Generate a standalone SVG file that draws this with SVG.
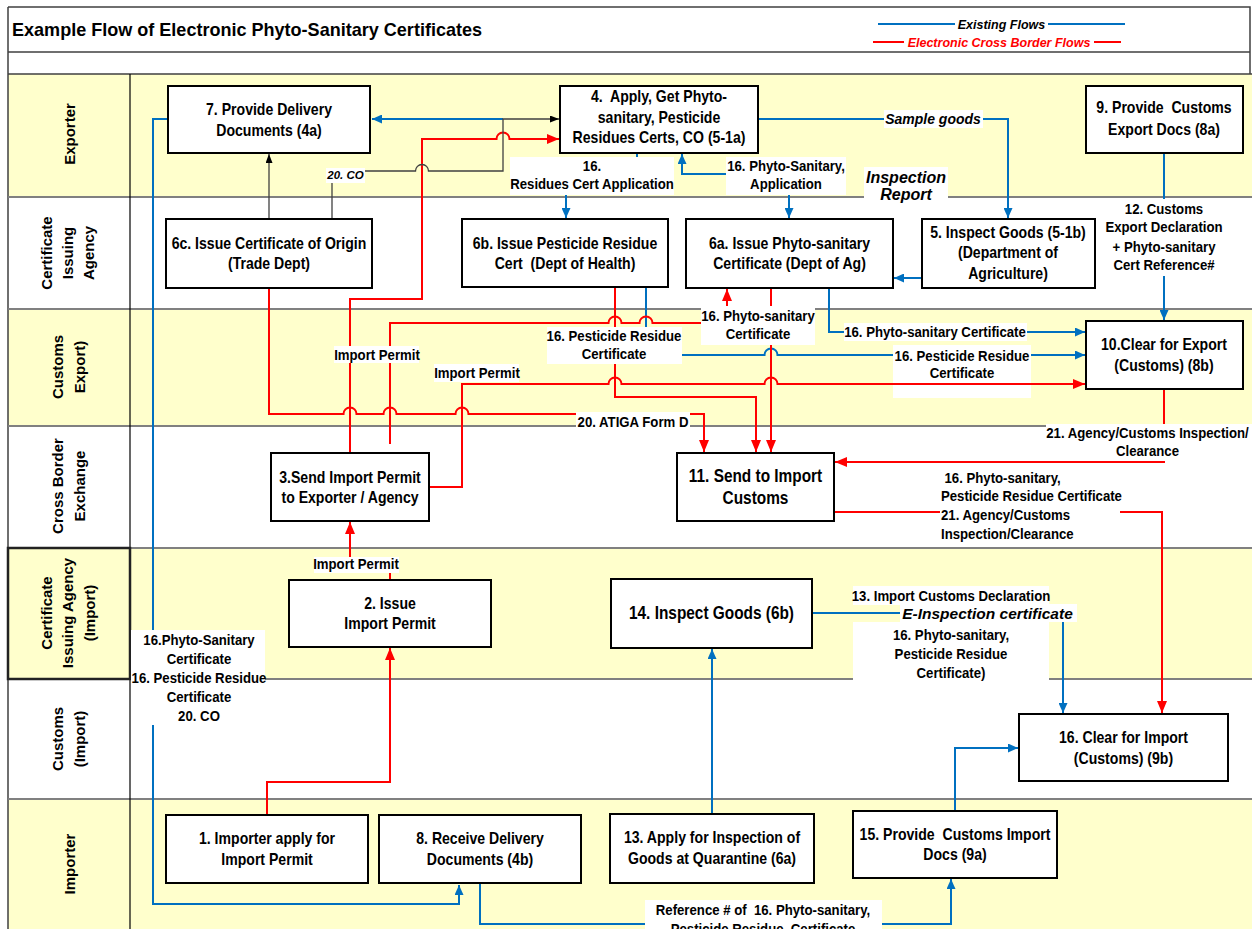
<svg xmlns="http://www.w3.org/2000/svg" width="1252" height="929" viewBox="0 0 1252 929">
<defs>
<style>
.f{font-family:"Liberation Sans",Arial,Helvetica,sans-serif;font-weight:bold;fill:#000}
.n{font-size:16px;text-anchor:middle}
.n17{font-size:17.5px}
.l{font-size:15px;text-anchor:middle}
.st{text-anchor:start}
.i{font-style:italic}
.ln{font-size:15px;text-anchor:middle}
.lg{font-size:12.5px;text-anchor:middle;font-style:italic}
.bx{fill:#fff;stroke:#000;stroke-width:2}
.w{fill:#fff}
.y{fill:#FFFFCC}
.sep{stroke:#808080;stroke-width:2;fill:none}
.fr{stroke:#404040;stroke-width:1.5;fill:none}
.b{stroke:#0070C0;stroke-width:2;fill:none}
.r{stroke:#FF0000;stroke-width:2;fill:none}
.k{stroke:#404040;stroke-width:1.3;fill:none}
</style>
<marker id="ab" viewBox="0 0 10 10" refX="10" refY="5" markerWidth="10" markerHeight="9" markerUnits="userSpaceOnUse" orient="auto" preserveAspectRatio="none"><path d="M0 0L10 5L0 10Z" fill="#0070C0"/></marker>
<marker id="ar" viewBox="0 0 10 10" refX="10" refY="5" markerWidth="12" markerHeight="10" markerUnits="userSpaceOnUse" orient="auto" preserveAspectRatio="none"><path d="M0 0L10 5L0 10Z" fill="#FF0000"/></marker>
<marker id="ak" viewBox="0 0 10 10" refX="10" refY="5" markerWidth="9" markerHeight="7" markerUnits="userSpaceOnUse" orient="auto" preserveAspectRatio="none"><path d="M0 0L10 5L0 10Z" fill="#000"/></marker>
</defs>

<g id="background">
<rect x="0" y="0" width="1252" height="929" fill="#fff"/>
<rect class="y" x="8" y="74" width="1244" height="123"/>
<rect class="y" x="8" y="309" width="1244" height="117"/>
<rect class="y" x="8" y="548" width="1244" height="131"/>
<rect class="y" x="8" y="799" width="1244" height="130"/>
<path class="fr" d="M8 7H1250V74M8 52H1250M8 74H1252M8 7V929"/>
<path class="sep" d="M8 197H1252M8 309H1252M8 426H1252M8 548H1252M8 679H1252M8 799H1252"/>
<path d="M130 74V929" stroke="#000" stroke-width="1.2" fill="none"/>
<rect x="8" y="548" width="122" height="131" fill="none" stroke="#222" stroke-width="2.5"/>
<rect class="w" x="893" y="380" width="138" height="18"/>
</g>

<g id="title">
<text class="f" style="font-size:19px" transform="translate(12 36) scale(.95 1)">Example Flow of Electronic Phyto-Sanitary Certificates</text>
</g>

<g id="legend">
<path class="b" d="M878 24H1125"/>
<rect class="w" x="955" y="17" width="93" height="14"/>
<text class="f lg" x="1001.5" y="28.5">Existing Flows</text>
<path class="r" d="M873 42H1121"/>
<rect class="w" x="904" y="35" width="190" height="14"/>
<text class="f lg" x="999" y="46.5" style="fill:#FF0000">Electronic Cross Border Flows</text>
</g>

<g id="lanes">
<text class="f ln" transform="translate(70 134) rotate(-90)"><tspan x="0" y="5.4">Exporter</tspan></text>
<text class="f ln" transform="translate(70 253) rotate(-90)"><tspan x="0" y="-18.5">Certificate</tspan><tspan x="0" y="2.5">Issuing</tspan><tspan x="0" y="23.5">Agency</tspan></text>
<text class="f ln" transform="translate(70 367) rotate(-90)"><tspan x="0" y="-7">Customs</tspan><tspan x="0" y="14.5">Export)</tspan></text>
<text class="f ln" transform="translate(70 486) rotate(-90)"><tspan x="0" y="-7">Cross Border</tspan><tspan x="0" y="14.5">Exchange</tspan></text>
<text class="f ln" transform="translate(70 613) rotate(-90)"><tspan x="0" y="-18.5">Certificate</tspan><tspan x="0" y="3">Issuing Agency</tspan><tspan x="0" y="24.5">(Import)</tspan></text>
<text class="f ln" transform="translate(70 739) rotate(-90)"><tspan x="0" y="-7">Customs</tspan><tspan x="0" y="14.5">(Import)</tspan></text>
<text class="f ln" transform="translate(70 864) rotate(-90)"><tspan x="0" y="5.4">Importer</tspan></text>
</g>

<g id="connectors">
<path class="b" d="M503 119H372" marker-end="url(#ab)"/>
<path class="b" d="M168 119H153V904H459V885" marker-end="url(#ab)"/>
<path class="b" d="M758 119H1008V218" marker-end="url(#ab)"/>
<path class="b" d="M637 153V172H566V218" marker-end="url(#ab)"/>
<path class="b" d="M786 174H682V154" marker-end="url(#ab)"/>
<path class="b" d="M789 174V218" marker-end="url(#ab)"/>
<path class="b" d="M922 278H894" marker-end="url(#ab)"/>
<path class="b" d="M1164 153V320" marker-end="url(#ab)"/>
<path class="b" d="M829 288V332H1085" marker-end="url(#ab)"/>
<path class="b" d="M646 287V355H764.5A6.5 6.5 0 0 1 777.5 355H1085" marker-end="url(#ab)"/>
<path class="b" d="M812 613H1063V713" marker-end="url(#ab)"/>
<path class="b" d="M712 814V649" marker-end="url(#ab)"/>
<path class="b" d="M955 811V748H1018" marker-end="url(#ab)"/>
<path class="b" d="M480 883V924H951V879" marker-end="url(#ab)"/>

<path class="r" d="M267 815V782H390V648" marker-end="url(#ar)"/>
<path class="r" d="M390 580V566H350V522" marker-end="url(#ar)"/>
<path class="r" d="M350 453V299H422V139H496.5A6.5 6.5 0 0 1 509.5 139H559" marker-end="url(#ar)"/>
<path class="r" d="M390 444V323H608.5A6.5 6.5 0 0 1 621.5 323H639.5A6.5 6.5 0 0 1 652.5 323H727V289" marker-end="url(#ar)"/>
<path class="r" d="M429 487H462V384H608.5A6.5 6.5 0 0 1 621.5 384H764.5A6.5 6.5 0 0 1 777.5 384H1085" marker-end="url(#ar)"/>
<path class="r" d="M269 288V414H343.5A6.5 6.5 0 0 1 356.5 414H383.5A6.5 6.5 0 0 1 396.5 414H455.5A6.5 6.5 0 0 1 468.5 414H704V452" marker-end="url(#ar)"/>
<path class="r" d="M615 287V397H756V452" marker-end="url(#ar)"/>
<path class="r" d="M771 288V452" marker-end="url(#ar)"/>
<path class="r" d="M1164 389V462H835" marker-end="url(#ar)"/>
<path class="r" d="M834 512H1162V713" marker-end="url(#ar)"/>

<path class="k" d="M363 171H415.5A6.5 6.5 0 0 1 428.5 171H503V119H559" marker-end="url(#ak)"/>
<path class="k" d="M332 183V219"/>
<path class="k" d="M269 219V154" marker-end="url(#ak)"/>
</g>

<g id="labels">
<g id="lb-co"><rect class="w" x="326" y="168" width="39" height="15"/><text class="f i" style="font-size:11.5px" text-anchor="middle" x="345.5" y="179">20. CO</text></g>
<g id="lb-rescert"><rect class="w" x="510" y="157" width="164" height="38"/><text class="f l" transform="translate(592 171) scale(.88 1)"><tspan x="0">16.</tspan><tspan x="0" dy="18.5">Residues Cert Application</tspan></text></g>
<g id="lb-phytoapp"><rect class="w" x="726" y="157" width="120" height="38"/><text class="f l" transform="translate(786 170.5) scale(.88 1)"><tspan x="0">16. Phyto-Sanitary,</tspan><tspan x="0" dy="19">Application</tspan></text></g>
<g id="lb-sample"><rect class="w" x="884" y="110" width="99" height="18"/><text class="f i" style="font-size:14px" text-anchor="middle" x="933" y="124">Sample goods</text></g>
<g id="lb-insp"><rect class="w" x="864" y="167" width="84" height="37"/><text class="f i" style="font-size:16px" text-anchor="middle"><tspan x="906" y="182.5">Inspection</tspan><tspan x="906" y="200">Report</tspan></text></g>
<g id="lb-12"><rect class="w" x="1103" y="199" width="123" height="77"/><text class="f l" transform="translate(1164 213.5) scale(.88 1)"><tspan x="0">12. Customs</tspan><tspan x="0" dy="19">Export Declaration</tspan><tspan x="0" dy="19.5">+ Phyto-sanitary</tspan><tspan x="0" dy="18.5">Cert Reference#</tspan></text></g>
<g id="lb-phytocert"><rect class="w" x="701" y="306" width="114" height="39"/><text class="f l" transform="translate(758 321) scale(.88 1)"><tspan x="0">16. Phyto-sanitary</tspan><tspan x="0" dy="18.5">Certificate</tspan></text></g>
<g id="lb-pestcert"><rect class="w" x="547" y="327" width="135" height="37"/><text class="f l" transform="translate(614 341) scale(.88 1)"><tspan x="0">16. Pesticide Residue</tspan><tspan x="0" dy="18.5">Certificate</tspan></text></g>
<g id="lb-phytocert2"><rect class="w" x="844" y="323" width="183" height="18"/><text class="f l" transform="translate(935 337) scale(.88 1)">16. Phyto-sanitary Certificate</text></g>
<g id="lb-pestcert2"><rect class="w" x="893" y="345" width="138" height="36"/><text class="f l" transform="translate(962 360.5) scale(.88 1)"><tspan x="0">16. Pesticide Residue</tspan><tspan x="0" dy="18">Certificate</tspan></text></g>
<g id="lb-ip1"><rect class="w" x="334" y="346" width="85" height="17"/><text class="f l" transform="translate(377 359.5) scale(.88 1)">Import Permit</text></g>
<g id="lb-ip2"><rect class="w" x="434" y="364" width="85" height="18"/><text class="f l" transform="translate(477 378) scale(.88 1)">Import Permit</text></g>
<g id="lb-atiga"><rect class="w" x="576" y="412" width="114" height="17"/><text class="f l" transform="translate(633 427) scale(.88 1)">20. ATIGA Form D</text></g>
<g id="lb-21a"><rect class="w" x="1046" y="424" width="206" height="37"/><text class="f l" transform="translate(1147.5 438) scale(.88 1)"><tspan x="0">21. Agency/Customs Inspection/</tspan><tspan x="0" dy="18.5">Clearance</tspan></text></g>
<g id="lb-21b"><rect class="w" x="940" y="467" width="180" height="75"/><text class="f l st" transform="translate(941 482.5) scale(.88 1)"><tspan x="4">16. Phyto-sanitary,</tspan><tspan x="0" dy="18.5">Pesticide Residue Certificate</tspan><tspan x="0" dy="19">21. Agency/Customs</tspan><tspan x="0" dy="19">Inspection/Clearance</tspan></text></g>
<g id="lb-ip3"><rect class="w" x="314" y="557" width="85" height="16"/><text class="f l" transform="translate(356 568.5) scale(.88 1)">Import Permit</text></g>
<g id="lb-13"><rect class="w" x="853" y="586" width="196" height="19"/><text class="f l" transform="translate(951 601) scale(.88 1)">13. Import Customs Declaration</text></g>
<g id="lb-einsp"><rect class="w" x="900" y="604" width="177" height="18"/><text class="f i" style="font-size:15.5px" text-anchor="middle" x="987.5" y="618.5">E-Inspection certificate</text></g>
<g id="lb-16imp"><rect class="w" x="853" y="622" width="196" height="59"/><text class="f l" transform="translate(951 639.5) scale(.88 1)"><tspan x="0">16. Phyto-sanitary,</tspan><tspan x="0" dy="19.2">Pesticide Residue</tspan><tspan x="0" dy="19.2">Certificate)</tspan></text></g>
<g id="lb-left"><rect class="w" x="131" y="630" width="134" height="95"/><text class="f l" transform="translate(199 644.7) scale(.88 1)"><tspan x="0">16.Phyto-Sanitary</tspan><tspan x="0" dy="19">Certificate</tspan><tspan x="0" dy="19">16. Pesticide Residue</tspan><tspan x="0" dy="19">Certificate</tspan><tspan x="0" dy="19.5">20. CO</tspan></text></g>
<g id="lb-ref"><rect class="w" x="645" y="900" width="237" height="29"/><text class="f l" transform="translate(763 914.7) scale(.88 1)"><tspan x="0">Reference # of&#160; 16. Phyto-sanitary,</tspan><tspan x="0" dy="19">Pesticide Residue&#160; Certificate</tspan></text></g>
</g>

<g id="nodes">
<g id="n7"><rect class="bx" x="168" y="86" width="202" height="67"/><text class="f n" transform="translate(269 115) scale(.88 1)"><tspan x="0">7. Provide Delivery</tspan><tspan x="0" dy="21">Documents (4a)</tspan></text></g>
<g id="n4"><rect class="bx" x="560" y="86" width="198" height="67"/><text class="f n" transform="translate(659 102) scale(.88 1)"><tspan x="0">4.&#160; Apply, Get Phyto-</tspan><tspan x="0" dy="20.7">sanitary, Pesticide</tspan><tspan x="0" dy="20.7">Residues Certs, CO (5-1a)</tspan></text></g>
<g id="n9"><rect class="bx" x="1086" y="86" width="157" height="67"/><text class="f n" transform="translate(1164 113) scale(.88 1)"><tspan x="0">9. Provide&#160; Customs</tspan><tspan x="0" dy="22">Export Docs (8a)</tspan></text></g>
<g id="n6c"><rect class="bx" x="166" y="219" width="206" height="69"/><text class="f n" transform="translate(269 248.5) scale(.88 1)"><tspan x="0">6c. Issue Certificate of Origin</tspan><tspan x="0" dy="20.5">(Trade Dept)</tspan></text></g>
<g id="n6b"><rect class="bx" x="462" y="219" width="206" height="68"/><text class="f n" transform="translate(565 248.5) scale(.88 1)"><tspan x="0">6b. Issue Pesticide Residue</tspan><tspan x="0" dy="20.5">Cert&#160; (Dept of Health)</tspan></text></g>
<g id="n6a"><rect class="bx" x="686" y="219" width="207" height="69"/><text class="f n" transform="translate(789.5 248.5) scale(.88 1)"><tspan x="0">6a. Issue Phyto-sanitary</tspan><tspan x="0" dy="20.5">Certificate (Dept of Ag)</tspan></text></g>
<g id="n5"><rect class="bx" x="922" y="219" width="173" height="69"/><text class="f n" transform="translate(1008 238) scale(.88 1)"><tspan x="0">5. Inspect Goods (5-1b)</tspan><tspan x="0" dy="20.5">(Department of</tspan><tspan x="0" dy="20.5">Agriculture)</tspan></text></g>
<g id="n10"><rect class="bx" x="1086" y="321" width="157" height="68"/><text class="f n" transform="translate(1164 350) scale(.88 1)"><tspan x="0">10.Clear for Export</tspan><tspan x="0" dy="21">(Customs) (8b)</tspan></text></g>
<g id="n3"><rect class="bx" x="271" y="453" width="158" height="68"/><text class="f n" transform="translate(350 482.5) scale(.88 1)"><tspan x="0">3.Send Import Permit</tspan><tspan x="0" dy="20.5">to Exporter / Agency</tspan></text></g>
<g id="n11"><rect class="bx" x="677" y="453" width="157" height="68"/><text class="f n n17" transform="translate(755.5 481.5) scale(.88 1)"><tspan x="0">11. Send to Import</tspan><tspan x="0" dy="22.5">Customs</tspan></text></g>
<g id="n2"><rect class="bx" x="289" y="580" width="202" height="67"/><text class="f n" transform="translate(390 609) scale(.88 1)"><tspan x="0">2. Issue</tspan><tspan x="0" dy="20">Import Permit</tspan></text></g>
<g id="n14"><rect class="bx" x="611" y="579" width="201" height="69"/><text class="f n n17" transform="translate(711.5 619) scale(.88 1)">14. Inspect Goods (6b)</text></g>
<g id="n16"><rect class="bx" x="1019" y="714" width="209" height="67"/><text class="f n" transform="translate(1123.5 742.5) scale(.88 1)"><tspan x="0">16. Clear for Import</tspan><tspan x="0" dy="21.5">(Customs) (9b)</tspan></text></g>
<g id="n1"><rect class="bx" x="166" y="815" width="202" height="68"/><text class="f n" transform="translate(267 844) scale(.88 1)"><tspan x="0">1. Importer apply for</tspan><tspan x="0" dy="21">Import Permit</tspan></text></g>
<g id="n8"><rect class="bx" x="379" y="815" width="202" height="68"/><text class="f n" transform="translate(480 844) scale(.88 1)"><tspan x="0">8. Receive Delivery</tspan><tspan x="0" dy="21">Documents (4b)</tspan></text></g>
<g id="n13"><rect class="bx" x="610" y="814" width="204" height="69"/><text class="f n" transform="translate(712 843) scale(.88 1)"><tspan x="0">13. Apply for Inspection of</tspan><tspan x="0" dy="21">Goods at Quarantine (6a)</tspan></text></g>
<g id="n15"><rect class="bx" x="853" y="811" width="204" height="67"/><text class="f n" transform="translate(955 840) scale(.88 1)"><tspan x="0">15. Provide&#160; Customs Import</tspan><tspan x="0" dy="20.5">Docs (9a)</tspan></text></g>
</g>
</svg>
